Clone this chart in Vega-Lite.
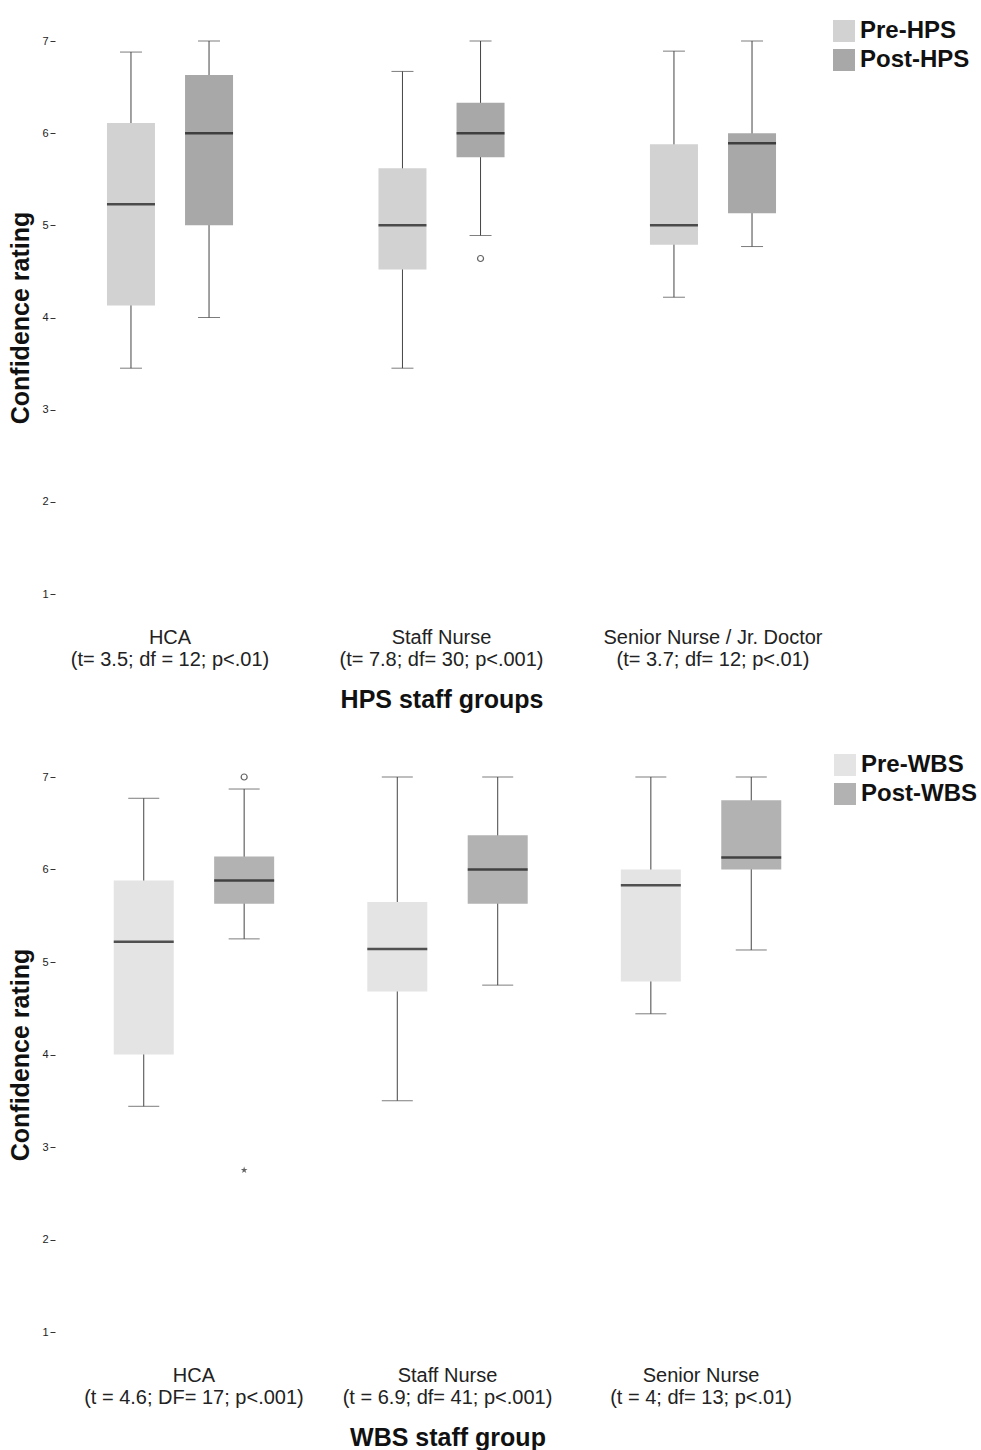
{
  "$schema": "https://vega.github.io/schema/vega-lite/v6.json",
  "background": "white",
  "padding": {"left": 8, "top": 19, "right": 5, "bottom": 5},
  "spacing": 41,
  "config": {
    "view": {"stroke": null},
    "font": "Liberation Sans",
    "axis": {"grid": false, "domain": false, "labelFont": "Liberation Sans", "titleFont": "Liberation Sans", "labelColor": "#222", "titleColor": "#111"},
    "axisX": {"ticks": false, "labelAngle": 0, "labelFontSize": 20, "labelLineHeight": 22, "labelPadding": 33, "labelLimit": 400, "labelOverlap": false, "labelExpr": "split(datum.label, '|')", "titleFontSize": 25, "titleFontWeight": "bold", "titlePadding": 18},
    "axisY": {"labelFontSize": 11, "tickSize": 5, "tickColor": "#333", "labelPadding": 2, "titleFontSize": 25, "titleFontWeight": "bold", "titlePadding": 8},
    "legend": {"orient": "none", "symbolType": "square", "symbolSize": 484, "symbolStrokeWidth": 0, "labelFont": "Liberation Sans", "labelFontSize": 24, "labelFontWeight": "bold", "labelColor": "#111", "rowPadding": 5, "labelOffset": 4, "title": null}
  },
  "resolve": {"scale": {"x": "independent", "y": "independent", "color": "independent", "xOffset": "independent"}, "legend": {"color": "independent"}},
  "vconcat": [
    {
      "width": 773,
      "height": 553,
      "data": {"values": [
        {"group": "HCA|(t= 3.5; df = 12; p<.01)", "phase": "Pre-HPS", "lower": 3.45, "q1": 4.13, "median": 5.23, "q3": 6.11, "upper": 6.88},
        {"group": "HCA|(t= 3.5; df = 12; p<.01)", "phase": "Post-HPS", "lower": 4.0, "q1": 5.0, "median": 6.0, "q3": 6.63, "upper": 7.0},
        {"group": "Staff Nurse|(t= 7.8; df= 30; p<.001)", "phase": "Pre-HPS", "lower": 3.45, "q1": 4.52, "median": 5.0, "q3": 5.62, "upper": 6.67},
        {"group": "Staff Nurse|(t= 7.8; df= 30; p<.001)", "phase": "Post-HPS", "lower": 4.89, "q1": 5.74, "median": 6.0, "q3": 6.33, "upper": 7.0},
        {"group": "Senior Nurse / Jr. Doctor|(t= 3.7; df= 12; p<.01)", "phase": "Pre-HPS", "lower": 4.22, "q1": 4.79, "median": 5.0, "q3": 5.88, "upper": 6.89},
        {"group": "Senior Nurse / Jr. Doctor|(t= 3.7; df= 12; p<.01)", "phase": "Post-HPS", "lower": 4.77, "q1": 5.13, "median": 5.89, "q3": 6.0, "upper": 7.0}
      ]},
      "encoding": {
        "x": {"field": "group", "type": "nominal", "title": "HPS staff groups", "sort": ["HCA|(t= 3.5; df = 12; p<.01)", "Staff Nurse|(t= 7.8; df= 30; p<.001)", "Senior Nurse / Jr. Doctor|(t= 3.7; df= 12; p<.01)"], "scale": {"paddingInner": 0.2, "paddingOuter": 0.0236}},
        "xOffset": {"field": "phase", "type": "nominal", "sort": ["Pre-HPS", "Post-HPS"], "scale": {"paddingInner": 0, "paddingOuter": 0.391}}
      },
      "layer": [
        {"mark": {"type": "rule", "color": "#444", "strokeWidth": 1},
         "encoding": {"y": {"field": "lower", "type": "quantitative", "title": "Confidence rating", "scale": {"domain": [1, 7], "nice": false, "zero": false}, "axis": {"values": [1, 2, 3, 4, 5, 6, 7], "format": "d"}}, "y2": {"field": "upper"}}},
        {"mark": {"type": "bar", "size": 48},
         "encoding": {"y": {"field": "q1", "type": "quantitative", "title": "Confidence rating"}, "y2": {"field": "q3"},
           "color": {"field": "phase", "type": "nominal", "sort": ["Pre-HPS", "Post-HPS"], "scale": {"domain": ["Pre-HPS", "Post-HPS"], "range": ["#d2d2d2", "#a8a8a8"]}, "legend": {"legendX": 777, "legendY": -22}}}},
        {"mark": {"type": "tick", "size": 22, "thickness": 1, "color": "#444"},
         "encoding": {"y": {"field": "lower", "type": "quantitative", "title": "Confidence rating"}}},
        {"mark": {"type": "tick", "size": 22, "thickness": 1, "color": "#444"},
         "encoding": {"y": {"field": "upper", "type": "quantitative", "title": "Confidence rating"}}},
        {"mark": {"type": "tick", "size": 48, "thickness": 2.5, "color": "#111"},
         "encoding": {"y": {"field": "median", "type": "quantitative", "title": "Confidence rating"}}},
        {"data": {"values": [
          {"group": "Staff Nurse|(t= 7.8; df= 30; p<.001)", "phase": "Post-HPS", "value": 4.64, "kind": "outlier"}
        ]},
         "mark": {"type": "point", "shape": "circle", "filled": false, "color": "#222", "size": 36, "strokeWidth": 1.2},
         "encoding": {"y": {"field": "value", "type": "quantitative", "title": "Confidence rating"}}}
      ]
    },
    {
      "width": 785,
      "height": 555,
      "data": {"values": [
        {"group": "HCA|(t = 4.6; DF= 17; p<.001)", "phase": "Pre-WBS", "lower": 3.44, "q1": 4.0, "median": 5.22, "q3": 5.88, "upper": 6.77},
        {"group": "HCA|(t = 4.6; DF= 17; p<.001)", "phase": "Post-WBS", "lower": 5.25, "q1": 5.63, "median": 5.88, "q3": 6.14, "upper": 6.87},
        {"group": "Staff Nurse|(t = 6.9; df= 41; p<.001)", "phase": "Pre-WBS", "lower": 3.5, "q1": 4.68, "median": 5.14, "q3": 5.65, "upper": 7.0},
        {"group": "Staff Nurse|(t = 6.9; df= 41; p<.001)", "phase": "Post-WBS", "lower": 4.75, "q1": 5.63, "median": 6.0, "q3": 6.37, "upper": 7.0},
        {"group": "Senior Nurse|(t = 4; df= 13; p<.01)", "phase": "Pre-WBS", "lower": 4.44, "q1": 4.79, "median": 5.83, "q3": 6.0, "upper": 7.0},
        {"group": "Senior Nurse|(t = 4; df= 13; p<.01)", "phase": "Post-WBS", "lower": 5.13, "q1": 6.0, "median": 6.13, "q3": 6.75, "upper": 7.0}
      ]},
      "encoding": {
        "x": {"field": "group", "type": "nominal", "title": "WBS staff group", "sort": ["HCA|(t = 4.6; DF= 17; p<.001)", "Staff Nurse|(t = 6.9; df= 41; p<.001)", "Senior Nurse|(t = 4; df= 13; p<.01)"], "scale": {"paddingInner": 0, "paddingOuter": 0.048}},
        "xOffset": {"field": "phase", "type": "nominal", "sort": ["Pre-WBS", "Post-WBS"], "scale": {"paddingInner": 0, "paddingOuter": 0.2625}}
      },
      "layer": [
        {"mark": {"type": "rule", "color": "#444", "strokeWidth": 1},
         "encoding": {"y": {"field": "lower", "type": "quantitative", "title": "Confidence rating", "scale": {"domain": [1, 7], "nice": false, "zero": false}, "axis": {"values": [1, 2, 3, 4, 5, 6, 7], "format": "d"}}, "y2": {"field": "upper"}}},
        {"mark": {"type": "bar", "size": 60},
         "encoding": {"y": {"field": "q1", "type": "quantitative", "title": "Confidence rating"}, "y2": {"field": "q3"},
           "color": {"field": "phase", "type": "nominal", "sort": ["Pre-WBS", "Post-WBS"], "scale": {"domain": ["Pre-WBS", "Post-WBS"], "range": ["#e4e4e4", "#b2b2b2"]}, "legend": {"legendX": 778, "legendY": -24}}}},
        {"mark": {"type": "tick", "size": 31, "thickness": 1, "color": "#444"},
         "encoding": {"y": {"field": "lower", "type": "quantitative", "title": "Confidence rating"}}},
        {"mark": {"type": "tick", "size": 31, "thickness": 1, "color": "#444"},
         "encoding": {"y": {"field": "upper", "type": "quantitative", "title": "Confidence rating"}}},
        {"mark": {"type": "tick", "size": 60, "thickness": 2.5, "color": "#111"},
         "encoding": {"y": {"field": "median", "type": "quantitative", "title": "Confidence rating"}}},
        {"data": {"values": [
          {"group": "HCA|(t = 4.6; DF= 17; p<.001)", "phase": "Post-WBS", "value": 7.0, "kind": "outlier"},
          {"group": "HCA|(t = 4.6; DF= 17; p<.001)", "phase": "Post-WBS", "value": 2.75, "kind": "extreme"}
        ]},
         "transform": [{"filter": "datum.kind == 'outlier'"}],
         "mark": {"type": "point", "shape": "circle", "filled": false, "color": "#222", "size": 36, "strokeWidth": 1.2},
         "encoding": {"y": {"field": "value", "type": "quantitative", "title": "Confidence rating"}}},
        {"data": {"values": [
          {"group": "HCA|(t = 4.6; DF= 17; p<.001)", "phase": "Post-WBS", "value": 7.0, "kind": "outlier"},
          {"group": "HCA|(t = 4.6; DF= 17; p<.001)", "phase": "Post-WBS", "value": 2.75, "kind": "extreme"}
        ]},
         "transform": [{"filter": "datum.kind == 'extreme'"}],
         "mark": {"type": "point", "shape": "M0,-1L0.22,-0.31L0.95,-0.31L0.36,0.12L0.59,0.81L0,0.38L-0.59,0.81L-0.36,0.12L-0.95,-0.31L-0.22,-0.31Z", "filled": true, "color": "#222", "size": 50, "strokeWidth": 0},
         "encoding": {"y": {"field": "value", "type": "quantitative", "title": "Confidence rating"}}}
      ]
    }
  ]
}
